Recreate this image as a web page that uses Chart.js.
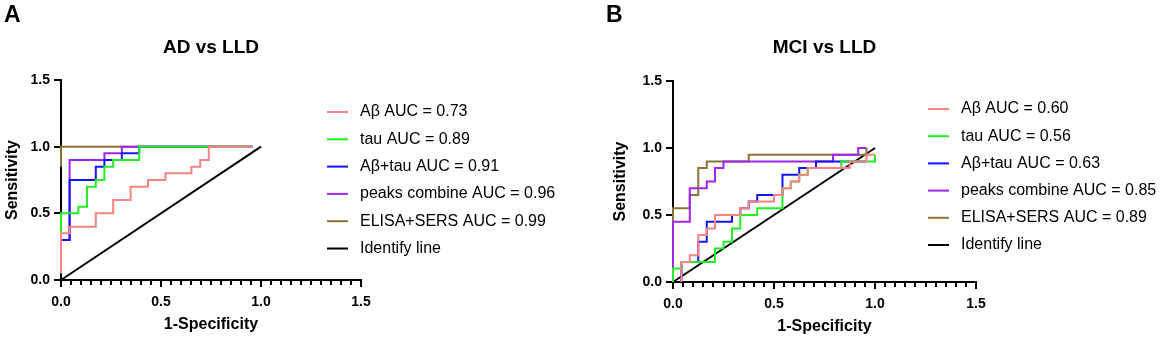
<!DOCTYPE html>
<html>
<head>
<meta charset="utf-8">
<script src="https://cdn.jsdelivr.net/npm/chart.js@4"></script>
<style>
  body { margin: 0; background: #fff; }
  #wrap { position: relative; width: 1169px; height: 341px; }
  canvas { position: absolute; top: 0; }
</style>
</head>
<body>
<div id="wrap">
  <canvas id="plotA" width="580" height="341" style="left:0px"></canvas>
  <canvas id="plotB" width="589" height="341" style="left:580px"></canvas>
</div>
<script>
// ROC curves: x = 1-Specificity, y = Sensitivity
const FONT = "'Liberation Sans', Arial, Helvetica, sans-serif";

const labelsA = ['Aβ AUC = 0.73', 'tau AUC = 0.89', 'Aβ+tau AUC = 0.91', 'peaks combine AUC = 0.96', 'ELISA+SERS AUC = 0.99', 'Identify line'];
const labelsB = ['Aβ AUC = 0.60', 'tau AUC = 0.56', 'Aβ+tau AUC = 0.63', 'peaks combine AUC = 0.85', 'ELISA+SERS AUC = 0.89', 'Identify line'];
const colors = ['#f98282', '#22f022', '#1414f5', '#a024ee', '#8a7434', '#000000'];
const tickLabels = ['0.0', '0.5', '1.0', '1.5'];

// panel A - AD vs LLD
const abA_x = [0, 0, 0.043, 0.174, 0.261, 0.348, 0.435, 0.522, 0.652, 0.696, 0.739, 0.957];
const abA_y = [0.05, 0.35, 0.40, 0.50, 0.60, 0.70, 0.75, 0.80, 0.85, 0.90, 1.00, 1.00];
const tauA_x = [0, 0, 0.087, 0.130, 0.174, 0.217, 0.261, 0.391, 0.957];
const tauA_y = [0.05, 0.50, 0.55, 0.70, 0.75, 0.85, 0.90, 1.00, 1.00];
const mixA_x = [0, 0, 0.043, 0.174, 0.217, 0.304, 0.391, 0.957];
const mixA_y = [0.05, 0.30, 0.75, 0.85, 0.90, 0.95, 1.00, 1.00];
const peakA_x = [0, 0, 0.043, 0.217, 0.304, 0.957];
const peakA_y = [0.05, 0.30, 0.90, 0.95, 1.00, 1.00];
const elisaA_x = [0, 0, 0.957];
const elisaA_y = [0.85, 1.00, 1.00];

// panel B - MCI vs LLD
const abB_x = [0.042, 0.042, 0.083, 0.125, 0.167, 0.208, 0.333, 0.375, 0.500, 0.542, 0.583, 0.625, 0.667, 0.875, 0.958, 1.000];
const abB_y = [0.00, 0.15, 0.20, 0.35, 0.40, 0.50, 0.55, 0.60, 0.65, 0.70, 0.75, 0.80, 0.85, 0.90, 0.95, 0.95];
const tauB_x = [0, 0, 0.042, 0.208, 0.250, 0.292, 0.333, 0.417, 0.542, 0.583, 0.625, 0.667, 0.833, 1.000];
const tauB_y = [0.00, 0.10, 0.15, 0.25, 0.30, 0.40, 0.50, 0.55, 0.70, 0.75, 0.80, 0.85, 0.90, 0.95];
const mixB_x = [0.042, 0.042, 0.125, 0.167, 0.292, 0.333, 0.375, 0.417, 0.542, 0.625, 0.708, 0.958];
const mixB_y = [0.00, 0.15, 0.30, 0.45, 0.50, 0.55, 0.60, 0.65, 0.80, 0.85, 0.90, 0.90];
const peakB_x = [0, 0, 0.083, 0.167, 0.208, 0.250, 0.792, 0.917, 0.958];
const peakB_y = [0.10, 0.45, 0.70, 0.75, 0.85, 0.90, 0.95, 1.00, 1.00];
const elisaB_x = [0, 0, 0.083, 0.125, 0.167, 0.375, 0.958];
const elisaB_y = [0.45, 0.55, 0.65, 0.85, 0.90, 0.95, 1.00];

const identity_x = [0, 1];
const identity_y = [0, 1];

const pts = (xs, ys) => xs.map((x, i) => ({ x: x, y: ys[i] }));

function makeSets(series, labels) {
    return series.map((s, i) => ({
        label: labels[i],
        data: pts(s[0], s[1]),
        borderColor: colors[i],
        backgroundColor: colors[i],
        borderWidth: 2,
        pointRadius: 0,
        fill: false,
        tension: 0,
        stepped: i === 5 ? false : 'before',
        clip: false
    }));
}

// draws panel letter, title, legend and the small x ticks
const decor = {
    id: 'decor',
    afterDraw(chart, args, o) {
        const ctx = chart.ctx;
        const area = chart.chartArea;
        const xs = chart.scales.x;
        ctx.save();
        ctx.strokeStyle = '#000';
        ctx.lineWidth = 2;
        for (let k = 1; k < 30; k++) {
            if (k % 10 === 0) continue;
            const px = Math.round(xs.getPixelForValue(k * 0.05));
            ctx.beginPath();
            ctx.moveTo(px, area.bottom);
            ctx.lineTo(px, area.bottom + 5);
            ctx.stroke();
        }
        ctx.fillStyle = '#000';
        ctx.textBaseline = 'middle';
        ctx.textAlign = 'left';
        ctx.font = 'bold 23px ' + FONT;
        ctx.fillText(o.letter, o.letterX, 16);
        ctx.font = 'bold 19px ' + FONT;
        ctx.textAlign = 'center';
        ctx.fillText(o.title, (area.left + area.right) / 2, 48);
        ctx.font = '16px ' + FONT;
        ctx.textAlign = 'left';
        chart.data.datasets.forEach((ds, i) => {
            const y = o.legendY + i * o.legendGap;
            ctx.strokeStyle = ds.borderColor;
            ctx.beginPath();
            ctx.moveTo(o.legendX, y);
            ctx.lineTo(o.legendX + 21, y);
            ctx.stroke();
            ctx.fillText(ds.label, o.legendX + 33, y);
        });
        ctx.restore();
    }
};

function axis(title, fit, titlePad, tickPad) {
    return {
        type: 'linear',
        min: 0,
        max: 1.5,
        afterFit: fit,
        ticks: {
            stepSize: 0.5,
            color: '#000',
            padding: tickPad,
            font: { size: 14, weight: 'bold', family: FONT },
            callback: (v) => tickLabels[Math.round(v / 0.5)]
        },
        grid: { drawOnChartArea: false, drawTicks: true, tickLength: 7, color: '#000', lineWidth: 2 },
        border: { display: true, color: '#000', width: 2 },
        title: { display: true, text: title, color: '#000', padding: titlePad, font: { size: 16, weight: 'bold', family: FONT } }
    };
}

function makeChart(id, sets, cfg) {
    return new Chart(document.getElementById(id), {
        type: 'line',
        data: { datasets: sets },
        options: {
            responsive: false,
            animation: false,
            devicePixelRatio: 1,
            layout: { padding: cfg.pad },
            plugins: { legend: { display: false }, tooltip: { enabled: false }, decor: cfg.decor },
            scales: {
                x: axis('1-Specificity', (s) => { s.height = cfg.xh; }, { top: 0, bottom: cfg.xtp }, 7),
                y: axis('Sensitivity', (s) => { s.width = cfg.yw; }, { top: 3, bottom: 0 }, 4)
            }
        },
        plugins: [decor]
    });
}

Chart.defaults.font.family = FONT;

makeChart('plotA', makeSets([[abA_x, abA_y], [tauA_x, tauA_y], [mixA_x, mixA_y], [peakA_x, peakA_y], [elisaA_x, elisaA_y], [identity_x, identity_y]], labelsA), {
    pad: { left: 0, right: 219, top: 80, bottom: 0 },
    yw: 61, xh: 61, xtp: 7,
    decor: { letter: 'A', letterX: 4, title: 'AD vs LLD', legendX: 327, legendY: 112, legendGap: 27.3 }
});

makeChart('plotB', makeSets([[abB_x, abB_y], [tauB_x, tauB_y], [mixB_x, mixB_y], [peakB_x, peakB_y], [elisaB_x, elisaB_y], [identity_x, identity_y]], labelsB), {
    pad: { left: 28, right: 193, top: 81, bottom: 0 },
    yw: 65, xh: 59, xtp: 5,
    decor: { letter: 'B', letterX: 26, title: 'MCI vs LLD', legendX: 348, legendY: 109, legendGap: 27.2 }
});
</script>
</body>
</html>
